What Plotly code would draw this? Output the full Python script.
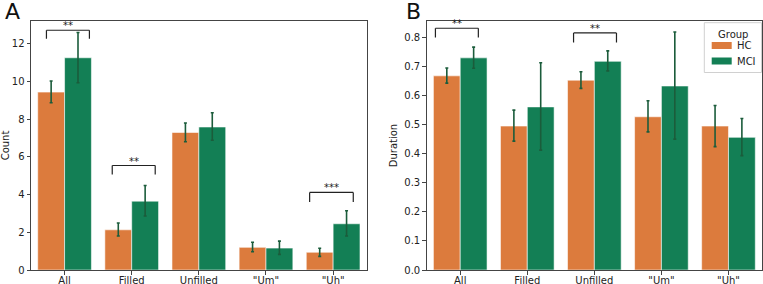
import plotly.graph_objects as go

categories = ["All", "Filled", "Unfilled", "\"Um\"", "\"Uh\""]
groups = ["HC", "MCI"]

# Panel A: Count
count_hc = [9.43, 2.13, 7.29, 1.20, 0.94]
count_hc_lo = [8.87, 1.80, 6.80, 0.97, 0.72]
count_hc_hi = [10.02, 2.49, 7.79, 1.47, 1.15]
count_mci = [11.25, 3.65, 7.58, 1.16, 2.45]
count_mci_lo = [9.93, 2.86, 6.88, 0.83, 1.80]
count_mci_hi = [12.59, 4.48, 8.34, 1.53, 3.14]

# Panel B: Duration
dur_hc = [0.669, 0.496, 0.654, 0.528, 0.496]
dur_hc_lo = [0.644, 0.444, 0.626, 0.476, 0.425]
dur_hc_hi = [0.696, 0.551, 0.683, 0.583, 0.567]
dur_mci = [0.731, 0.562, 0.719, 0.634, 0.457]
dur_mci_lo = [0.695, 0.413, 0.686, 0.451, 0.394]
dur_mci_hi = [0.768, 0.714, 0.755, 0.820, 0.522]

# significance brackets: (category index, left offset, right offset, top, tick bottom, label)
sig_a = [(0, -0.27, 0.37, 12.71, 12.26, "**"),
         (1, -0.29, 0.35, 5.54, 5.06, "**"),
         (4, -0.35, 0.30, 4.11, 3.61, "***")]
sig_b = [(0, -0.37, 0.27, 0.833, 0.801, "**"),
         (2, -0.31, 0.33, 0.817, 0.784, "**")]

ORANGE = "#dc7b3d"
GREEN = "#137f55"
ERR = "#1b5c3b"
W, H = 763, 284
ML, MR, MT, MB = 31, 1, 21, 14
PW, PH = W - ML - MR, H - MT - MB

def px_x(p):
    return (p - ML) / PW

def px_y(p):
    return (H - MB - p) / PH

fig = go.Figure()

def add_bars(xa, ya, vals_hc, lo_hc, hi_hc, vals_mci, lo_mci, hi_mci):
    for name, vals, lo, hi, col in [
        ("HC", vals_hc, lo_hc, hi_hc, ORANGE),
        ("MCI", vals_mci, lo_mci, hi_mci, GREEN),
    ]:
        fig.add_trace(go.Bar(
            x=categories, y=vals, name=name, xaxis=xa, yaxis=ya,
            marker=dict(color=col, line=dict(color="rgba(255,255,255,0.7)", width=0.8)),
            error_y=dict(type="data", symmetric=False,
                         array=[h - v for h, v in zip(hi, vals)],
                         arrayminus=[v - l for v, l in zip(vals, lo)],
                         color=ERR, thickness=1.6, width=1.5),
            showlegend=False, hoverinfo="skip",
        ))

add_bars("x", "y", count_hc, count_hc_lo, count_hc_hi, count_mci, count_mci_lo, count_mci_hi)
add_bars("x2", "y2", dur_hc, dur_hc_lo, dur_hc_hi, dur_mci, dur_mci_lo, dur_mci_hi)

shapes = []
annotations = []
for sig, xr, yr in [(sig_a, "x", "y"), (sig_b, "x2", "y2")]:
    for ci, l, r, top, bot, lab in sig:
        x0, x1 = ci + l, ci + r
        for (a, b, c, d) in [(x0, bot, x0, top), (x0, top, x1, top), (x1, top, x1, bot)]:
            shapes.append(dict(type="line", xref=xr, yref=yr, x0=a, y0=b, x1=c, y1=d,
                               line=dict(color="#222222", width=1.2)))
        annotations.append(dict(x=(x0 + x1) / 2, y=top, xref=xr, yref=yr, text=lab,
                                showarrow=False, yanchor="bottom", yshift=-3,
                                font=dict(size=10, color="#222222")))

annotations.append(dict(x=px_x(3), y=px_y(-3), xref="paper", yref="paper", text="A",
                        showarrow=False, xanchor="left", yanchor="top",
                        font=dict(size=22, color="#111111")))
annotations.append(dict(x=px_x(404), y=px_y(-3), xref="paper", yref="paper", text="B",
                        showarrow=False, xanchor="left", yanchor="top",
                        font=dict(size=22, color="#111111")))

# legend (matplotlib style box)
shapes.append(dict(type="rect", xref="paper", yref="paper",
                   x0=px_x(704.3), x1=px_x(761.5), y0=px_y(72.5), y1=px_y(22.7),
                   line=dict(color="#d0d0d0", width=1), fillcolor="rgba(255,255,255,0.85)",
                   layer="above"))
annotations.append(dict(x=px_x(733), y=px_y(34), xref="paper", yref="paper", text="Group",
                        showarrow=False, xanchor="center", yanchor="middle",
                        font=dict(size=10, color="#222222")))
for name, col, yc in [(groups[0], ORANGE, 45.5), (groups[1], GREEN, 61)]:
    shapes.append(dict(type="rect", xref="paper", yref="paper",
                       x0=px_x(711.7), x1=px_x(731.7), y0=px_y(yc + 3.5), y1=px_y(yc - 3.5),
                       line=dict(width=0), fillcolor=col, layer="above"))
    annotations.append(dict(x=px_x(735), y=px_y(yc), xref="paper", yref="paper", text=name,
                            showarrow=False, xanchor="left", yanchor="middle",
                            font=dict(size=10, color="#222222")))

axis_common = dict(showline=True, linecolor="#444444", linewidth=1, mirror=True,
                   ticks="outside", ticklen=3.5, tickcolor="#444444", showgrid=False,
                   zeroline=False, tickfont=dict(size=10, color="#222222"))

fig.update_layout(
    width=W, height=H,
    margin=dict(l=ML, r=MR, t=MT, b=MB, autoexpand=False),
    paper_bgcolor="white", plot_bgcolor="white",
    font=dict(family="DejaVu Sans", color="#222222"),
    barmode="group", bargap=0.2, bargroupgap=0,
    showlegend=False, hovermode=False,
    xaxis=dict(domain=[0, px_x(366.7)], anchor="y", type="category",
               range=[-0.5, 4.5], ticklabelstandoff=-3, **axis_common),
    yaxis=dict(domain=[0, 1], anchor="x", range=[0, 13.2], tickvals=[0, 2, 4, 6, 8, 10, 12],
               title=dict(text="Count", font=dict(size=10), standoff=4), **axis_common),
    xaxis2=dict(domain=[px_x(426.7), 1], anchor="y2", type="category",
                range=[-0.5, 4.5], ticklabelstandoff=-3, **axis_common),
    yaxis2=dict(domain=[0, 1], anchor="x2", range=[0, 0.858],
                tickvals=[0, 0.1, 0.2, 0.3, 0.4, 0.5, 0.6, 0.7, 0.8], tickformat=".1f",
                title=dict(text="Duration", font=dict(size=10), standoff=4), **axis_common),
    shapes=shapes, annotations=annotations,
)

fig.write_html("out.html", config={"displayModeBar": False, "staticPlot": True},
               post_script="document.body.style.margin='0';document.body.style.overflow='hidden';")
